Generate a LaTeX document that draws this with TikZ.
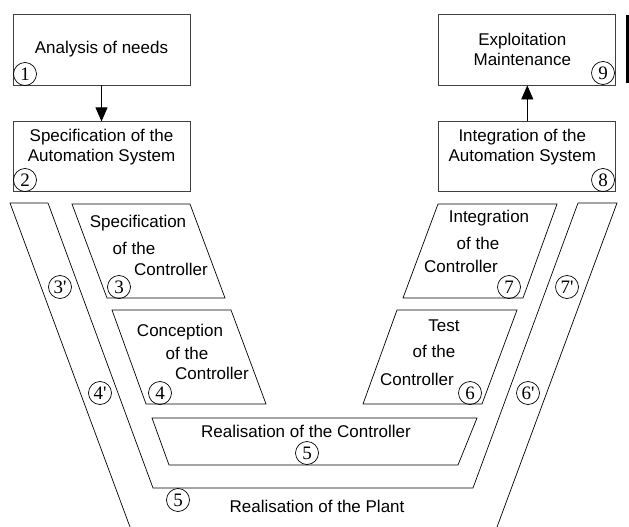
\documentclass[tikz,border=0pt]{standalone}
\usepackage{fontspec}
\setmainfont{Liberation Sans}
\newfontfamily\numfont{Liberation Serif}
\usepackage{tikz}
\usetikzlibrary{shapes.geometric, arrows.meta, positioning}
\usepackage{xcolor}

\tikzset{
    phase/.style={draw=black!75, line width=0.8pt, minimum width=177pt, minimum height=71pt, inner sep=0pt},
    boxtext/.style={align=center, font=\fontsize{17}{20}\selectfont},
    linetext/.style={font=\fontsize{17}{20}\selectfont, inner sep=0pt},
    stage/.style={draw, line width=0.7pt},
    numcirc/.style={circle, draw, line width=0.7pt, minimum size=23pt, inner sep=0pt, font=\numfont\fontsize{19}{19}\selectfont},
    flow/.style={-{Triangle[length=14pt,width=12pt]}, line width=0.8pt}
}

\begin{document}
\begin{tikzpicture}[x=1pt, y=-1pt]
    \useasboundingbox (0,0) rectangle (629,527);

    % top boxes
    \node[phase] (needs) at (101.5,49.5) {};
    \node[phase, minimum height=70pt, below=36pt of needs] (specsys) {};
    \node[phase, right=248pt of needs] (exploit) {};
    \node[phase, minimum height=70pt, below=36pt of exploit] (integsys) {};

    \node[boxtext] at (needs.center) {Analysis of needs};
    \node[boxtext] at ([yshift=-26pt]specsys.north) {Specification of the\\Automation System};
    \node[boxtext] at ([xshift=-5pt]exploit.center) {Exploitation\\Maintenance};
    \node[boxtext] at ([xshift=-5pt,yshift=-26pt]integsys.north) {Integration of the\\Automation System};

    \draw[flow] (needs) -- (specsys);
    \draw[flow] (integsys) -- (exploit);
    \draw[line width=3pt] (627.5,15) -- (627.5,83);

    % plant band
    \draw[stage] (130,527) -- (10,203) -- (48,203) -- (153,488) -- (473,488)
        -- (578,203) -- (617,203) -- (497,527);

    % controller stages
    \draw[stage] (72,204) -- (190,204) -- (225,298) -- (107,298) -- cycle;
    \draw[stage] (112,310) -- (231,310) -- (266,404) -- (146,404) -- cycle;
    \draw[stage] (438,204) -- (557,204) -- (523,298) -- (403,298) -- cycle;
    \draw[stage] (397,310) -- (517,310) -- (482,404) -- (363,404) -- cycle;
    \draw[stage] (152,418) -- (477,418) -- (458,465) -- (169,465) -- cycle;

    \node[linetext] (spec1) at (138,223) {Specification};
    \node[linetext] (spec2) at (134,248) {of the};
    \node[linetext] (spec3) at (171,269) {Controller};
    \node[linetext] (conc1) at (180,332) {Conception};
    \node[linetext] (conc2) at (187,353) {of the};
    \node[linetext] (conc3) at (212,373) {Controller};
    \node[linetext] (integ1) at (489,218) {Integration};
    \node[linetext] (integ2) at (478,243) {of the};
    \node[linetext] (integ3) at (461,266) {Controller};
    \node[linetext] (test1) at (444,326) {Test};
    \node[linetext] (test2) at (434,351) {of the};
    \node[linetext] (test3) at (417,379) {Controller};
    \node[linetext] (realctl) at (306,431) {Realisation of the Controller};
    \node[linetext] (realplant) at (317,506) {Realisation of the Plant};

    % step numbers
    \node[numcirc] (n1) at (25,74) {1};
    \node[numcirc] (n2) at (25,180) {2};
    \node[numcirc] (n9) at (603,73) {9};
    \node[numcirc] (n8) at (603,180) {8};
    \node[numcirc] (n3) at (119,287) {3};
    \node[numcirc] (n3p) at (60,287) {3'};
    \node[numcirc] (n7) at (509,287) {7};
    \node[numcirc] (n7p) at (567,287) {7'};
    \node[numcirc] (n4) at (160,393) {4};
    \node[numcirc] (n4p) at (100,393) {4'};
    \node[numcirc] (n6) at (470,393) {6};
    \node[numcirc] (n6p) at (528,393) {6'};
    \node[numcirc] (n5) at (307,453) {5};
    \node[numcirc] (n5p) at (178,500) {5};
\end{tikzpicture}
\end{document}
